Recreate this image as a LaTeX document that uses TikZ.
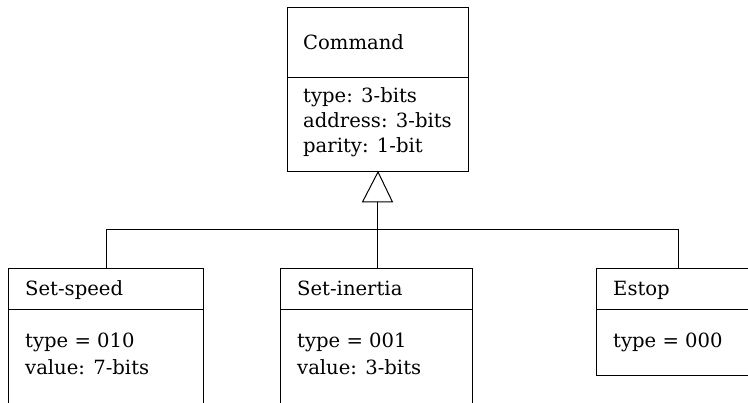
\documentclass[tikz,border=0pt]{standalone}
\usepackage{fontspec}
\setmainfont{DejaVu Serif}
\tikzset{
  box/.style={draw, line width=1pt, rectangle, inner sep=0pt, anchor=north west},
  txt/.style={anchor=base west, inner sep=0pt, font=\fontsize{19.6}{24}\selectfont},
  link/.style={draw, line width=1pt},
}
\begin{document}
\begin{tikzpicture}[x=1pt,y=1pt]
\useasboundingbox (0,0) rectangle (748,-403);
\clip (0,0) rectangle (748,-403);
% Command
\node[box, minimum width=181pt, minimum height=70pt] (cmdh) at (287,-7) {};
\node[box, minimum width=181pt, minimum height=94pt] (cmdb) at (287,-77) {};
\node[txt] (cmdt) at (303,-50) {Command};
\node[txt] (cmd1) at (303,-103) {type: 3-bits};
\node[txt] (cmd2) at (303,-128) {address: 3-bits};
\node[txt] (cmd3) at (303,-153) {parity: 1-bit};
% Set-speed
\node[box, minimum width=195pt, minimum height=41pt] (ssh) at (8,-268) {};
\node[box, minimum width=195pt, minimum height=120pt] (ssb) at (8,-309) {};
\node[txt] (sst) at (25,-296) {Set-speed};
\node[txt] (ss1) at (25,-348) {type = 010};
\node[txt] (ss2) at (25,-375) {value: 7-bits};
% Set-inertia
\node[box, minimum width=192pt, minimum height=41pt] (sih) at (280,-268) {};
\node[box, minimum width=192pt, minimum height=120pt] (sib) at (280,-309) {};
\node[txt] (sit) at (297,-296) {Set-inertia};
\node[txt] (si1) at (297,-348) {type = 001};
\node[txt] (si2) at (297,-375) {value: 3-bits};
% Estop
\node[box, minimum width=170pt, minimum height=41pt] (esh) at (596,-268) {};
\node[box, minimum width=170pt, minimum height=66pt] (esb) at (596,-309) {};
\node[txt] (est) at (613,-296) {Estop};
\node[txt] (es1) at (613,-348) {type = 000};
% Generalization
\coordinate (tl) at (362.5,-202);
\coordinate (tr) at (392.5,-202);
\coordinate (tb) at (377.5,-202);
\coordinate (j) at (377.5,-230);
\path[link] (cmdb.south) -- (tl) -- (tr) -- cycle;
\path[link] (tb) -- (j);
\path[link] (ssh.north -| 106,0) |- (j);
\path[link] (esh.north -| 678,0) |- (j);
\path[link] (sih.north -| j) -- (j);
\end{tikzpicture}
\end{document}
